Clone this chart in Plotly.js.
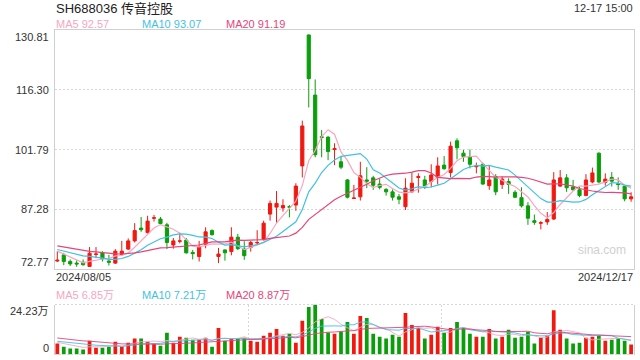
<!DOCTYPE html>
<html><head><meta charset="utf-8">
<script src="https://cdn.plot.ly/plotly-3.0.1.min.js"></script>
<style>html,body{margin:0;padding:0;background:#fff}#c{width:640px;height:360px}</style>
</head><body><div id="c"></div>
<script>
// ---- data ----
const openP  = [74.7,76.2,74.6,74.2,74.4,73.4,76.3,76.7,74.7,74.2, 76.3,77.6,79.6,82.7,81.6,85.1,84.9,83.5,78.6,79.5,
                79.8,76.8,75.8,78.8,82.1,75.8,77.4,77.0,80.5,77.6, 78.0,79.1,80.0,86.1,87.8,87.6,87.9,88.3,97.8,129.6,
                115.0,104.9,104.8,101.8,98.8,94.4,89.9,90.3,94.4,94.9, 93.4,92.1,91.5,90.3,87.9,91.5,95.0,94.4,94.0,95.0,
                98.0,96.2,103.9,100.9,100.0,97.6,98.2,93.0,95.2,93.3, 94.0,91.4,90.1,88.1,84.5,83.9,84.2,84.9,92.9,94.9,
                92.7,92.0,90.6,93.9,100.9,93.8,95.0,93.5,92.9,89.8];
const highP  = [77.1,76.7,75.1,74.9,75.1,78.1,78.1,77.1,76.2,77.6, 79.6,80.2,83.9,85.4,85.7,85.9,85.4,84.0,80.3,81.6,
                80.3,77.4,79.6,82.9,82.4,77.9,77.5,82.9,81.3,79.5, 79.6,82.2,84.5,89.4,91.7,89.7,88.3,93.6,108.8,129.7,
                118.8,106.5,105.0,103.3,100.2,94.6,93.2,98.8,97.5,95.4, 94.7,92.4,92.1,91.0,94.8,96.3,96.0,95.4,98.2,99.9,
                100.2,103.7,104.5,101.7,101.8,98.6,98.6,97.8,95.8,95.2, 94.8,91.9,92.6,89.0,86.0,84.4,86.6,96.3,96.8,95.8,
                94.4,92.7,95.8,97.4,101.1,96.0,96.3,95.0,93.0,91.4];
const lowP   = [74.5,73.7,73.5,73.3,73.6,73.3,75.4,74.6,73.6,74.0, 76.0,77.4,79.2,81.8,81.4,84.3,83.6,77.6,77.7,79.0,
                76.5,75.1,74.6,77.8,80.9,74.2,74.8,76.1,77.4,75.0, 77.0,78.6,79.7,84.5,84.0,86.7,85.3,86.9,95.0,112.0,
                99.9,99.9,99.2,98.0,97.0,89.9,89.9,89.4,92.4,92.0, 92.1,90.6,89.4,88.5,87.1,91.3,91.3,92.2,92.6,93.3,
                96.9,95.0,99.4,98.8,97.2,96.0,93.2,92.0,90.7,92.2, 91.0,90.0,87.7,83.5,83.5,82.4,83.5,84.7,92.7,91.5,
                91.8,90.2,90.5,93.6,93.6,93.0,92.8,92.0,89.2,89.1];
const closeP = [74.9,74.6,74.0,74.0,73.8,76.6,76.4,75.2,74.4,77.1, 77.1,79.6,82.1,82.3,84.4,85.2,83.8,79.2,79.6,79.6,
                76.7,76.5,78.2,81.8,81.1,76.4,76.7,80.5,77.7,76.0, 79.2,79.2,83.9,88.7,88.7,88.2,87.8,92.9,107.5,119.0,
                100.5,104.7,101.3,102.0,97.5,90.2,90.0,95.4,94.1,93.1, 92.6,91.5,90.2,89.7,92.4,93.6,95.2,92.9,95.6,97.8,
                97.1,102.6,102.2,100.1,98.2,97.8,93.4,94.4,91.5,94.6, 93.3,90.2,88.1,85.1,84.1,84.0,84.8,94.4,94.9,92.5,
                92.0,90.6,94.4,96.1,93.9,94.6,94.1,93.3,89.8,90.3];
// volume in 万 shares
const volume = [5.3,3.8,2.9,2.9,2.4,6.7,3.3,3.3,3.8,6.2, 3.8,5.7,7.7,7.7,6.2,5.3,4.3,10.5,5.7,8.6,
                8.1,7.2,7.2,8.1,3.8,12.9,6.7,7.7,7.7,8.1, 6.7,6.2,9.1,10.5,12.4,9.1,10.0,5.7,16.3,23.0,
                24.23,17.2,10.7,10.0,11.2,15.8,10.0,18.6,17.7,10.0, 8.6,7.7,9.6,8.6,20.1,14.3,12.8,7.7,9.6,13.4,
                10.5,12.9,15.8,12.9,10.0,8.6,8.6,12.4,7.7,8.6, 12.0,8.1,8.6,11.0,5.3,8.1,9.1,21.5,12.0,7.7,
                5.3,5.7,8.1,8.6,9.1,6.7,7.2,7.7,6.7,4.8];
// estimated sessions before the window (only feed the moving averages)
const prevClose  = [80.5,80.2,79.8,79.9,79.3,79.0,78.8,78.9,78.4,78.2,78.3,78.0,77.6,77.9,77.7,78.2,77.9,77.4,77.1];
const prevVolume = [11.5,10.8,9.2,8.6,9.5,10.2,9.0,8.8,9.4,9.0,7.5,6.8,7.0,6.4,6.8,6.5,5.8,6.2,5.7];

const priceTicks = [72.77, 87.28, 101.79, 116.30, 130.81];
const priceTickText = ['72.77','87.28','101.79','116.30','130.81'];
const volTickText = ['0','24.23万'];
const dateLabels = ['2024/08/05','2024/12/17'];
const titleText = 'SH688036 传音控股';
const timeText = '12-17 15:00';
const maPeriods = [5,10,20];
const maPriceLabels = ['MA5 92.57','MA10 93.07','MA20 91.19'];
const maVolLabels = ['MA5 6.85万','MA10 7.21万','MA20 8.87万'];

// ---- styles ----
const RED='#f0190f', GREEN='#0a9f0a';
const maColors=['#f7a6c2','#3fc2e2','#e6457a'];
const FONT='"Liberation Sans", Arial, "Noto Sans CJK SC", sans-serif';
const idx = closeP.map((_,i)=>i);

function ma(prev, arr, n){
  const all = prev.concat(arr), off = prev.length;
  return arr.map((_,i)=>{let s=0;for(let k=0;k<n;k++)s+=all[off+i-k];return s/n;});
}

const traces=[];
traces.push({type:'candlestick', x:idx, open:openP, high:highP, low:lowP, close:closeP,
  xaxis:'x', yaxis:'y', whiskerwidth:0,
  increasing:{line:{color:RED,width:1},fillcolor:RED},
  decreasing:{line:{color:GREEN,width:1},fillcolor:GREEN}, hoverinfo:'skip'});
maPeriods.forEach((n,k)=>traces.push({type:'scatter',mode:'lines',x:idx,y:ma(prevClose,closeP,n),
  xaxis:'x',yaxis:'y',line:{color:maColors[k],width:1.2},hoverinfo:'skip'}));
traces.push({type:'bar',x:idx,y:volume,xaxis:'x2',yaxis:'y2',
  marker:{color:idx.map(i=>closeP[i]>openP[i]?RED:GREEN),line:{width:0}},hoverinfo:'skip'});
maPeriods.forEach((n,k)=>traces.push({type:'scatter',mode:'lines',x:idx,y:ma(prevVolume,volume,n),
  xaxis:'x2',yaxis:'y2',line:{color:maColors[k],width:1},opacity:0.9,hoverinfo:'skip'}));

const W=640,H=360, L=55, R=634;
const py = p=>1-p/H, px = p=>p/W;
const xr=[-0.36,89.45];
const GRID='#d6d6d6', BORDER='#d0d0d0';

const ann=[];
function A(text,x,y,opt){ann.push(Object.assign({text:text,x:x,y:y,xref:'paper',yref:'paper',showarrow:false,
  font:{family:FONT,size:11,color:'#333'},borderpad:0},opt||{}));}
A(titleText,px(L),py(8),{xanchor:'left',yanchor:'middle',font:{family:FONT,size:13,color:'#222'}});
A(timeText,px(R),py(8),{xanchor:'right',yanchor:'middle'});
const maX=[L,140.5,225];
maPriceLabels.forEach((t,k)=>A(t,px(maX[k]),py(24),{xanchor:'left',yanchor:'middle',font:{family:FONT,size:11,color:maColors[k]}}));
maVolLabels.forEach((t,k)=>A(t,px(maX[k]),py(295),{xanchor:'left',yanchor:'middle',font:{family:FONT,size:11,color:maColors[k]}}));
priceTicks.forEach((v,k)=>{
  const last=k===priceTicks.length-1, first=k===0;
  ann.push({text:priceTickText[k],x:px(50),xref:'paper',y:v,yref:'y',showarrow:false,xanchor:'right',
    yanchor:first?'bottom':(last?'top':'middle'),font:{family:FONT,size:11,color:'#333'},borderpad:0});
});
A(volTickText[1],px(50),py(311),{xanchor:'right',yanchor:'middle'});
A(volTickText[0],px(50),py(348),{xanchor:'right',yanchor:'middle'});
A(dateLabels[0],px(L),py(277),{xanchor:'left',yanchor:'middle'});
A(dateLabels[1],px(R),py(277),{xanchor:'right',yanchor:'middle'});
A('sina.com',px(602),py(250),{xanchor:'center',yanchor:'middle',font:{family:FONT,size:12,color:'#cfcfcf'}});

const shapes=[304.5,354.5].map(y=>({type:'line',xref:'paper',yref:'paper',x0:px(L),x1:px(R),y0:py(y),y1:py(y),
  line:{color:GRID,width:1,dash:'2px,2px'}}));

const layout={width:W,height:H,margin:{l:0,r:0,t:0,b:0},paper_bgcolor:'#fff',plot_bgcolor:'#fff',showlegend:false,
  bargap:0.42, annotations:ann, shapes:shapes,
  xaxis:{domain:[px(L),px(R)],range:xr,anchor:'y',showticklabels:false,showgrid:false,zeroline:false,
    showline:true,mirror:true,linecolor:BORDER,linewidth:1,ticks:'',rangeslider:{visible:false},fixedrange:true},
  yaxis:{domain:[py(269),py(30)],range:[priceTicks[0],priceTicks[4]],anchor:'x',tickvals:priceTicks.slice(1,4),
    showticklabels:false,showgrid:true,gridcolor:GRID,griddash:'2px,2px',gridwidth:1,zeroline:false,
    showline:true,mirror:true,linecolor:BORDER,linewidth:1,ticks:'',fixedrange:true},
  xaxis2:{domain:[px(L),px(R)],range:xr,anchor:'y2',tickvals:[xr[0]+(xr[1]-xr[0])/3,xr[0]+2*(xr[1]-xr[0])/3],
    showticklabels:false,showgrid:true,gridcolor:GRID,griddash:'2px,2px',zeroline:false,showline:false,ticks:'',fixedrange:true},
  yaxis2:{domain:[py(354.5),py(304.5)],range:[0,Math.max(...volume)],anchor:'x2',showticklabels:false,showgrid:false,
    zeroline:false,showline:true,mirror:true,linecolor:BORDER,linewidth:1,ticks:'',fixedrange:true}
};
Plotly.newPlot('c',traces,layout,{displayModeBar:false,staticPlot:true});
</script></body></html>
